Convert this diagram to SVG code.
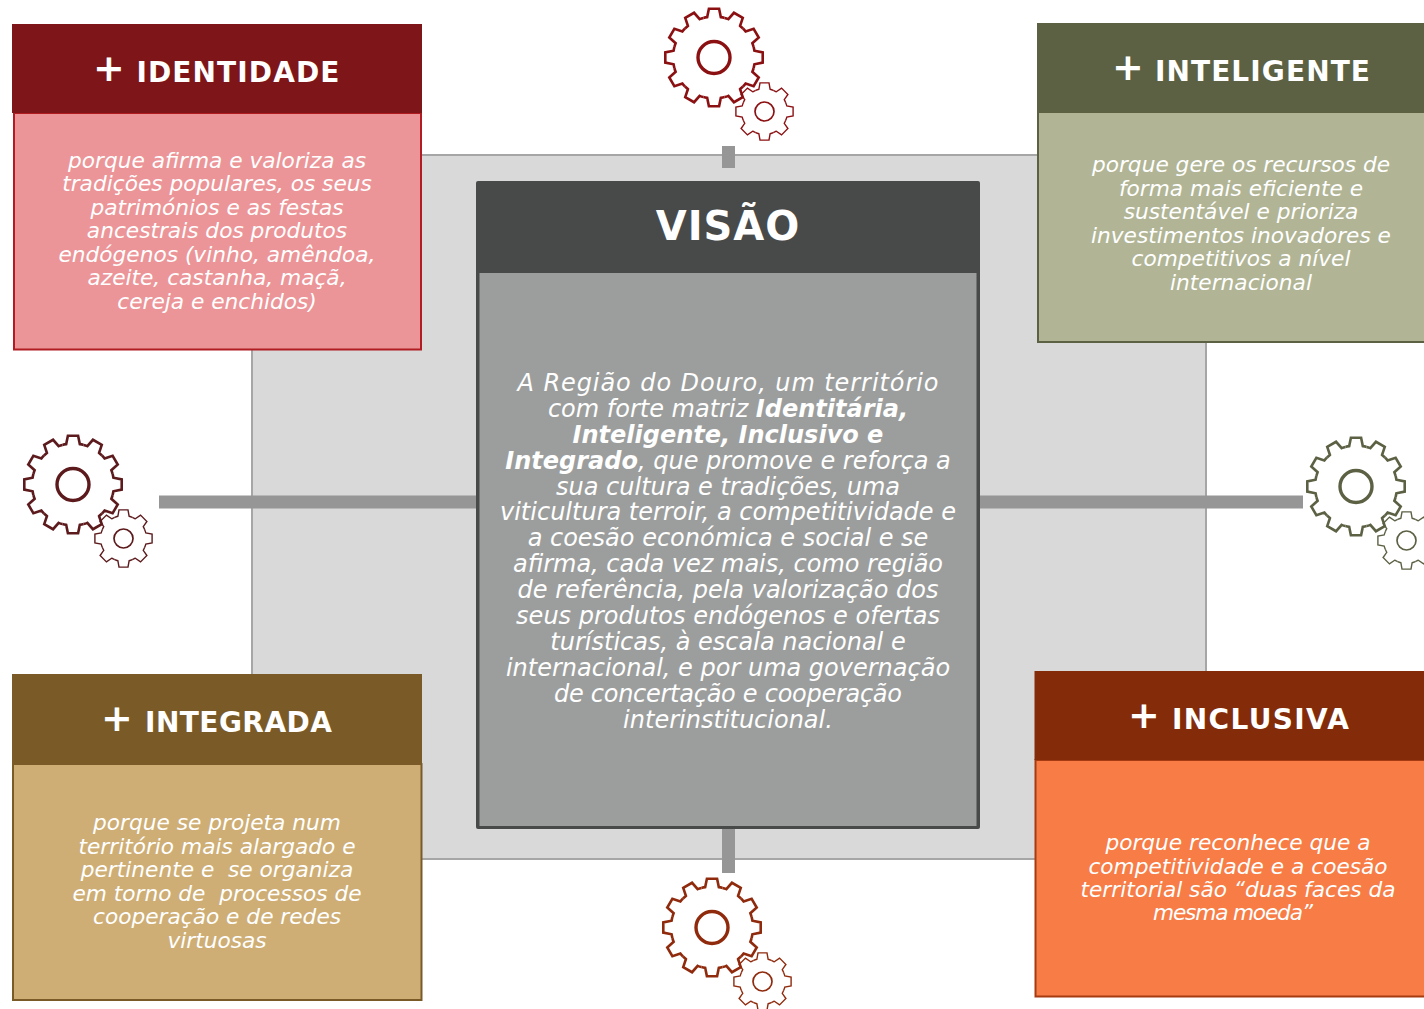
<svg xmlns="http://www.w3.org/2000/svg" width="1424" height="1009" viewBox="0 0 1424 1009">
<style>
text{font-family:"DejaVu Sans",Verdana,sans-serif;fill:#fff;text-anchor:middle;white-space:pre}
.b{font-size:21.7px;font-style:italic}
.c{font-size:24px;font-style:italic}
.h{font-size:28px;font-weight:bold;letter-spacing:1.1px}
.p{font-size:38px;font-weight:bold}
.k{fill:none;stroke-width:2.6}
.k2{fill:none;stroke-width:1.4}
</style>
<defs>
<path id="t1" d="M-10.6-39.6A41 41 0 0 1-6.8-40.4L-5.1-48.700L5.1-48.700L6.8-40.400A41 41 0 0 1 10.6-39.6"/>
<path id="t2" d="M-8.8-21.2A23 23 0 0 1-5.6-22.3L-4.5-28.6L4.5-28.6L5.6-22.3A23 23 0 0 1 8.8-21.2"/>
<g id="gear">
<g class="k">
<use href="#t1"/><use href="#t1" transform="rotate(30)"/><use href="#t1" transform="rotate(60)"/><use href="#t1" transform="rotate(90)"/><use href="#t1" transform="rotate(120)"/><use href="#t1" transform="rotate(150)"/><use href="#t1" transform="rotate(180)"/><use href="#t1" transform="rotate(210)"/><use href="#t1" transform="rotate(240)"/><use href="#t1" transform="rotate(270)"/><use href="#t1" transform="rotate(300)"/><use href="#t1" transform="rotate(330)"/>
<circle r="16" stroke-width="3.4"/>
</g>
<g class="k2" transform="translate(50.5 54)">
<use href="#t2"/><use href="#t2" transform="rotate(45)"/><use href="#t2" transform="rotate(90)"/><use href="#t2" transform="rotate(135)"/><use href="#t2" transform="rotate(180)"/><use href="#t2" transform="rotate(225)"/><use href="#t2" transform="rotate(270)"/><use href="#t2" transform="rotate(315)"/>
<circle r="9.5" stroke-width="1.7"/>
</g>
</g>
</defs>
<rect width="1424" height="1009" fill="#fff"/>
<g id="connectors" fill="#969696">
<rect x="252" y="155" width="954" height="704" fill="#d9d9d9" stroke="#a6a6a6" stroke-width="2"/>
<rect x="159" y="495.500" width="318" height="13"/>
<rect x="980" y="495.500" width="323" height="13"/>
<rect x="722" y="146" width="13" height="22"/>
<rect x="722" y="828" width="13" height="45"/>
</g>
<g id="gear-top" transform="translate(714 57.500)" stroke="#8b1012"><use href="#gear"/></g>
<g id="gear-left" transform="translate(73 484.500)" stroke="#5c1a1c"><use href="#gear"/></g>
<g id="gear-right" transform="translate(1356 486.500)" stroke="#5c6144"><use href="#gear"/></g>
<g id="gear-bottom" transform="translate(712 927.500)" stroke="#8f2a0c"><use href="#gear"/></g>
<g id="visao">
<rect x="476" y="181" width="504" height="648" rx="2" fill="#484a49"/>
<rect x="479.500" y="273" width="497" height="553" fill="#9c9e9d"/>
<text x="728" y="240" font-size="40" font-weight="bold" letter-spacing="1">VISÃO</text>
<g class="c">
<text x="728" y="390.500" textLength="421">A Região do Douro, um território</text>
<text x="728" y="416.500">com forte matriz <tspan font-weight="bold">Identitária,</tspan></text>
<text x="728" y="442.500" font-weight="bold">Inteligente, Inclusivo e</text>
<text x="728" y="468.500"><tspan font-weight="bold">Integrado</tspan>, que promove e reforça a</text>
<text x="728" y="494.500">sua cultura e tradições, uma</text>
<text x="728" y="520">viticultura terroir, a competitividade e</text>
<text x="728" y="546">a coesão económica e social e se</text>
<text x="728" y="572">afirma, cada vez mais, como região</text>
<text x="728" y="598">de referência, pela valorização dos</text>
<text x="728" y="624">seus produtos endógenos e ofertas</text>
<text x="728" y="649.500">turísticas, à escala nacional e</text>
<text x="728" y="675.500">internacional, e por uma governação</text>
<text x="728" y="701.500" textLength="348">de concertação e cooperação</text>
<text x="728" y="727.500">interinstitucional.</text>
</g>
</g>
<g id="identidade">
<rect x="14" y="113" width="407" height="236.500" fill="#ec9598" stroke="#b01c22" stroke-width="2"/>
<rect x="12" y="24" width="410" height="89" fill="#7e1519"/>
<text class="p" x="109" y="81">+</text>
<text class="h" x="238.500" y="82">IDENTIDADE</text>
<g class="b">
<text x="217" y="168">porque afirma e valoriza as</text>
<text x="217" y="191">tradições populares, os seus</text>
<text x="217" y="215">patrimónios e as festas</text>
<text x="217" y="238">ancestrais dos produtos</text>
<text x="217" y="262">endógenos (vinho, amêndoa,</text>
<text x="217" y="285">azeite, castanha, maçã,</text>
<text x="217" y="309">cereja e enchidos)</text>
</g>
</g>
<g id="inteligente">
<rect x="1038" y="112" width="400" height="230" fill="#b1b595" stroke="#5c6144" stroke-width="2"/>
<rect x="1037" y="23" width="400" height="89" fill="#5c6144"/>
<text class="p" x="1128" y="80">+</text>
<text class="h" x="1263" y="81">INTELIGENTE</text>
<g class="b">
<text x="1241" y="172">porque gere os recursos de</text>
<text x="1241" y="196">forma mais eficiente e</text>
<text x="1241" y="219">sustentável e prioriza</text>
<text x="1241" y="243">investimentos inovadores e</text>
<text x="1241" y="266">competitivos a nível</text>
<text x="1241" y="290">internacional</text>
</g>
</g>
<g id="integrada">
<rect x="13" y="764" width="408.500" height="236" fill="#ceae75" stroke="#7a5b28" stroke-width="2"/>
<rect x="12" y="674" width="410" height="90" fill="#7a5b28"/>
<text class="p" x="117" y="731">+</text>
<text class="h" x="239" y="732" textLength="188">INTEGRADA</text>
<g class="b">
<text x="217" y="830">porque se projeta num</text>
<text x="217" y="854">território mais alargado e</text>
<text x="217" y="877">pertinente e  se organiza</text>
<text x="217" y="901">em torno de  processos de</text>
<text x="217" y="924">cooperação e de redes</text>
<text x="217" y="948">virtuosas</text>
</g>
</g>
<g id="inclusiva">
<rect x="1035.500" y="760" width="400" height="236.500" fill="#f77c45" stroke="#a63a10" stroke-width="2"/>
<rect x="1034.500" y="671" width="400" height="89" fill="#842b09"/>
<text class="p" x="1144" y="728">+</text>
<text class="h" x="1261" y="729" textLength="178">INCLUSIVA</text>
<g class="b">
<text x="1238" y="850">porque reconhece que a</text>
<text x="1238" y="874">competitividade e a coesão</text>
<text x="1238" y="897">territorial são “duas faces da</text>
<text x="1233" y="920" textLength="160">mesma moeda”</text>
</g>
</g>
</svg>
